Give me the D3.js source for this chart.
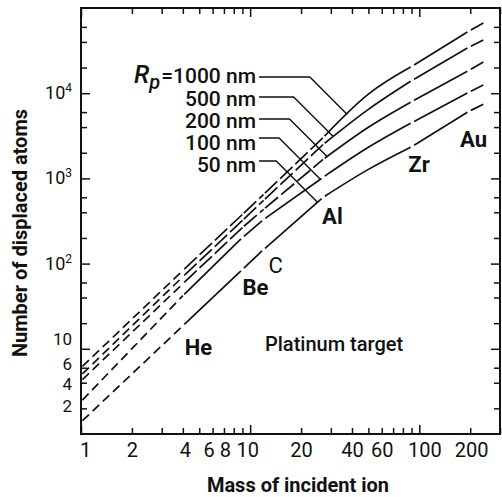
<!DOCTYPE html>
<html>
<head>
<meta charset="utf-8">
<script src="https://cdn.jsdelivr.net/npm/d3@7"></script>
<style>
body { margin: 0; background: #fff; }
svg { display: block; font-family: Roboto, 'DejaVu Sans', sans-serif; }
</style>
</head>
<body>
<svg id="chart"></svg>
<script>
// ion masses where the curves are broken, plus a few read-off points in between
let masses = [1, 4, 9, 12, 27, 50, 91, 197, 245]

// number of displaced atoms, one list per projected range
let rp1000 = [6.0, 83, 377, 647, 3020, 9750, 20800, 53700, 68400]
let rp500 = [4.9, 70, 321, 552, 2500, 6460, 14200, 34800, 43200]
let rp200 = [4.2, 58, 265, 432, 1670, 3980, 8050, 18600, 23800]
let rp100 = [2.4, 42, 202, 329, 1030, 2316, 4550, 10300, 12800]
let rp50 = [1.38, 18.6, 85, 146, 600, 1276, 2380, 6140, 7600]

let series = [rp1000, rp500, rp200, rp100, rp50]
let rpNames = ['1000 nm', '500 nm', '200 nm', '100 nm', '50 nm']
let leaderMass = [37.5, 31, 28.5, 26, 25]

let ionNames = ['He', 'Be', 'C', 'Al', 'Zr', 'Au']
let ionMasses = [4, 9, 12, 27, 91, 197]

let xTicks = [1, 2, 3, 4, 5, 6, 7, 8, 9, 10, 20, 30, 40, 50, 60, 70, 80, 90, 100, 200, 300]
let xLabels = [1, 2, 4, 6, 8, 10, 20, 40, 60, 100, 200]
let yTicks = [2, 4, 6, 10, 20, 40, 60, 100, 200, 400, 600, 1000, 2000, 4000, 6000,
              10000, 20000, 40000, 60000]
let yLabels = [2, 4, 6, 10, 100, 1000, 10000]

let width = 502
let height = 497

let svg = d3.select('#chart').attr('width', width).attr('height', height)

let xScale = d3.scaleLog().domain([1, 300]).range([81, 500])
let yScale = d3.scaleLog().domain([1, 1e5]).range([434, 8])

// ---- axes (ticks point inward on all four sides) ----
let isMajor = (v) => Math.abs(Math.log10(v) - Math.round(Math.log10(v))) < 1e-9

let xAxis = d3.axisBottom(xScale).tickValues(xTicks).tickSizeInner(-6).tickSizeOuter(0)
    .tickPadding(9)
    .tickFormat((d) => xLabels.includes(d) ? String(d) : '')
let xTop = d3.axisTop(xScale).tickValues(xTicks).tickSizeInner(-6).tickSizeOuter(0).tickFormat('')
let yAxis = d3.axisLeft(yScale).tickValues(yTicks).tickSizeInner(-6).tickSizeOuter(0)
    .tickPadding(9)
    .tickFormat((d) => yLabels.includes(d) ? String(d) : '')
let yRight = d3.axisRight(yScale).tickValues(yTicks).tickSizeInner(-6).tickSizeOuter(0).tickFormat('')

let gx = svg.append('g').attr('transform', 'translate(0,434)').call(xAxis)
svg.append('g').attr('transform', 'translate(0,8)').call(xTop)
let gy = svg.append('g').attr('transform', 'translate(81,0)').call(yAxis)
svg.append('g').attr('transform', 'translate(500,0)').call(yRight)

svg.selectAll('.domain').remove()
svg.selectAll('.tick line').attr('stroke', '#111').attr('stroke-width', 1.5)
svg.selectAll('.tick').filter((d) => isMajor(d)).select('line').each(function () {
    let l = d3.select(this)
    if (l.attr('y2') !== null && +l.attr('y2') !== 0) l.attr('y2', +l.attr('y2') * 1.5)
    if (l.attr('x2') !== null && +l.attr('x2') !== 0) l.attr('x2', +l.attr('x2') * 1.5)
})

let xNudge = {1: 4, 4: 2, 6: -4, 8: -9, 10: -3, 100: 5, 200: 1}
gx.selectAll('.tick text')
    .attr('font-size', 20).attr('fill', '#111').attr('font-family', 'Roboto, sans-serif')
    .attr('dx', (d) => xNudge[d] || 0)

let yNudge = {10: -10, 6: -4, 4: 1, 2: -2}
gy.selectAll('.tick text')
    .attr('font-size', 17).attr('fill', '#111').attr('font-family', 'Roboto, sans-serif')
    .attr('dy', (d) => (0.32 * 17 + (yNudge[d] || 0)) + 'px')
    .each(function (d) {
        if (d >= 100 && yLabels.includes(d)) {
            let t = d3.select(this).text('10').attr('font-size', 18)
            t.append('tspan').attr('font-size', 12).attr('dy', -7).text(Math.round(Math.log10(d)))
        }
    })

svg.append('rect')
    .attr('x', 81).attr('y', 8).attr('width', 419).attr('height', 426)
    .attr('fill', 'none').attr('stroke', '#111').attr('stroke-width', 2)

// ---- curves ----
let line = d3.line().curve(d3.curveMonotoneX)
let curves = svg.append('g').attr('fill', 'none').attr('stroke', '#111').attr('stroke-width', 1.7)

let drawSeg = (vals, i0, i1, dash) => {
    let pts = d3.range(i0, i1 + 1).map((i) => [xScale(masses[i]), yScale(vals[i])])
    let p = curves.append('path').attr('d', line(pts))
    let len = p.node().getTotalLength()
    let gap = 2
    if (dash) {
        p.attr('stroke-dasharray', dash).attr('stroke-dashoffset', -gap)
    } else {
        p.attr('stroke-dasharray', (len - 2 * gap) + ' ' + (len + 10)).attr('stroke-dashoffset', -gap)
    }
}

series.forEach((vals, k) => {
    drawSeg(vals, 0, 1, '9,5')
    let mid = k < 3 ? '17,4' : null
    drawSeg(vals, 1, 2, mid)
    drawSeg(vals, 2, 3, mid)
    drawSeg(vals, 3, 4, mid)
    drawSeg(vals, 4, 6, null)
    drawSeg(vals, 6, 7, null)
    drawSeg(vals, 7, 8, null)
})

// ---- range labels with leader lines ----
let valueAt = (vals, m) => {
    let lm = Math.log10(m)
    for (let i = 0; i < masses.length - 1; i++) {
        let a = Math.log10(masses[i]), b = Math.log10(masses[i + 1])
        if (lm >= a && lm <= b) {
            let t = (lm - a) / (b - a)
            return Math.pow(10, Math.log10(vals[i]) * (1 - t) + Math.log10(vals[i + 1]) * t)
        }
    }
    return vals[vals.length - 1]
}

let labelBase = [83, 106, 128, 150, 172]
let leaderY = [77, 97, 119, 138, 161]
let labels = svg.append('g').attr('fill', '#111').attr('font-size', 21).attr('font-weight', 500)

rpNames.forEach((name, k) => {
    let t = labels.append('text').attr('x', 256).attr('y', labelBase[k]).attr('text-anchor', 'end')
    if (k === 0) {
        t.append('tspan').attr('font-style', 'italic').attr('font-size', 25).text('R')
        t.append('tspan').attr('font-style', 'italic').attr('font-size', 20).attr('dy', 6).text('p')
        t.append('tspan').attr('dy', -6).attr('dx', 1).text('=')
    }
    t.append('tspan').text(name)

    let ex = xScale(leaderMass[k])
    let ey = yScale(valueAt(series[k], leaderMass[k]))
    let cx = ex - (ey - leaderY[k])
    svg.append('path')
        .attr('d', 'M259,' + leaderY[k] + 'L' + cx + ',' + leaderY[k] + 'L' + ex + ',' + ey)
        .attr('fill', 'none').attr('stroke', '#111').attr('stroke-width', 1.4)
})

// ---- ion labels ----
let ionLabelN = [8.5, 43, 78, 288, 1175, 2317]
let ionDx = [2, 0, 5, -1, -4, -9]
svg.append('g').attr('fill', '#111').attr('font-size', 22).attr('font-weight', 700)
    .selectAll('text').data(ionNames).enter().append('text')
    .attr('x', (d, i) => xScale(ionMasses[i]) + ionDx[i])
    .attr('y', (d, i) => yScale(ionLabelN[i]))
    .attr('font-weight', (d) => d === 'C' ? 400 : 700)
    .text((d) => d)

svg.append('text').attr('x', 265).attr('y', 351).attr('font-size', 20).attr('font-weight', 500)
    .attr('fill', '#111').text('Platinum target')

// ---- axis titles ----
svg.append('text').attr('x', 298).attr('y', 492).attr('text-anchor', 'middle')
    .attr('font-size', 20).attr('font-weight', 700).attr('fill', '#111')
    .text('Mass of incident ion')

svg.append('text').attr('transform', 'translate(27,233) rotate(-90)').attr('text-anchor', 'middle')
    .attr('font-size', 20).attr('font-weight', 700).attr('fill', '#111')
    .text('Number of displaced atoms')
</script>
</body>
</html>
